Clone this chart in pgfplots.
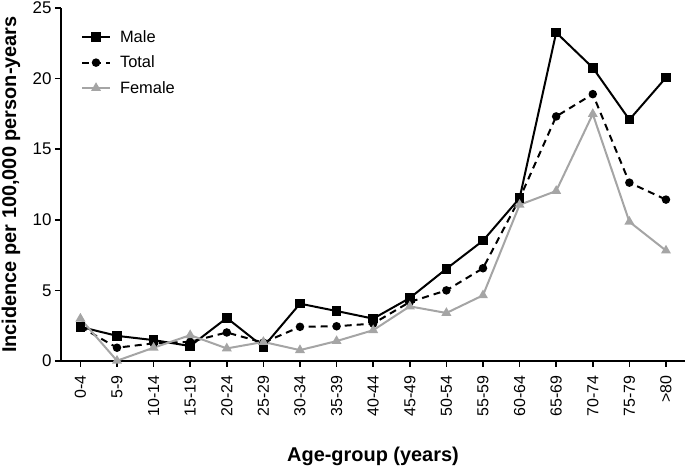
\documentclass[border=0pt]{standalone}
\usepackage{pgfplots}
\pgfplotsset{compat=1.18}
\usepackage{fontspec}
\setmainfont{Liberation Sans}
\definecolor{femgray}{RGB}{165,165,165}
\begin{document}
\begin{tikzpicture}[x=1bp,y=1bp]
\begin{axis}[
  scale only axis,
  width=624bp, height=353bp,
  xmin=-0.53, xmax=16.52,
  ymin=0, ymax=25,
  axis x line=bottom, axis y line=left,
  axis line style={-, line width=2bp},
  ytick={0,5,10,15,20,25},
  xtick={0,...,16},
  xticklabels={0-4,5-9,10-14,15-19,20-24,25-29,30-34,35-39,40-44,45-49,50-54,55-59,60-64,65-69,70-74,75-79,>80},
  x tick label style={yshift=-5bp, rotate=90, anchor=east, font=\fontsize{16}{18}\selectfont},
  y tick label style={font=\fontsize{17}{19}\selectfont},
  /pgf/number format/assume math mode=true,
  tick align=outside,
  major tick length=6bp,
  tick style={line width=1.6bp, black},
  xlabel={\textbf{Age-group (years)}},
  ylabel={\textbf{Incidence per 100,000 person-years}},
  label style={font=\fontsize{20}{22}\selectfont},
  xlabel style={at={(axis description cs:0.5,0)}, anchor=base, yshift=-101bp},
  ylabel style={at={(axis description cs:0,0.5)}, anchor=center, yshift=50bp},
  legend style={draw=none, fill=none, at={(0.027,0.948)}, anchor=north west, font=\fontsize{16.5}{19}\selectfont, row sep=8bp, column sep=7bp},
  legend cell align=left,
  legend image code/.code={\draw[mark repeat=2,mark phase=2] plot coordinates {(0bp,0bp) (14bp,0bp) (28bp,0bp)};},
  clip=false,
]
\coordinate (O) at (rel axis cs:0,0);
\addplot[black, line width=2bp, mark=square*, mark size=3.8bp] coordinates {
(0,2.42)(1,1.78)(2,1.48)(3,1.06)(4,3.05)(5,1.0)(6,4.06)(7,3.54)(8,3.0)(9,4.46)(10,6.53)(11,8.52)(12,11.53)(13,23.26)(14,20.77)(15,17.09)(16,20.07)};
\addlegendentry{Male}
\addplot[black, line width=2bp, dash pattern=on 7bp off 5bp, mark=*, mark size=3.2bp, mark options={solid}] coordinates {
(0,2.42)(1,0.94)(2,1.25)(3,1.36)(4,2.02)(5,1.3)(6,2.42)(7,2.46)(8,2.65)(9,4.18)(10,5.0)(11,6.57)(12,11.5)(13,17.32)(14,18.9)(15,12.63)(16,11.43)};
\addlegendentry{Total}
\addplot[femgray, line width=2bp, mark=triangle*, mark size=3.8bp] coordinates {
(0,3.0)(1,0.02)(2,0.94)(3,1.83)(4,0.89)(5,1.35)(6,0.77)(7,1.41)(8,2.18)(9,3.87)(10,3.4)(11,4.65)(12,11.06)(13,12.04)(14,17.49)(15,9.86)(16,7.82)};
\addlegendentry{Female}
\end{axis}
\pgfresetboundingbox
\useasboundingbox (O) ++(-61,-107) rectangle ++(685,468);
\end{tikzpicture}
\end{document}
